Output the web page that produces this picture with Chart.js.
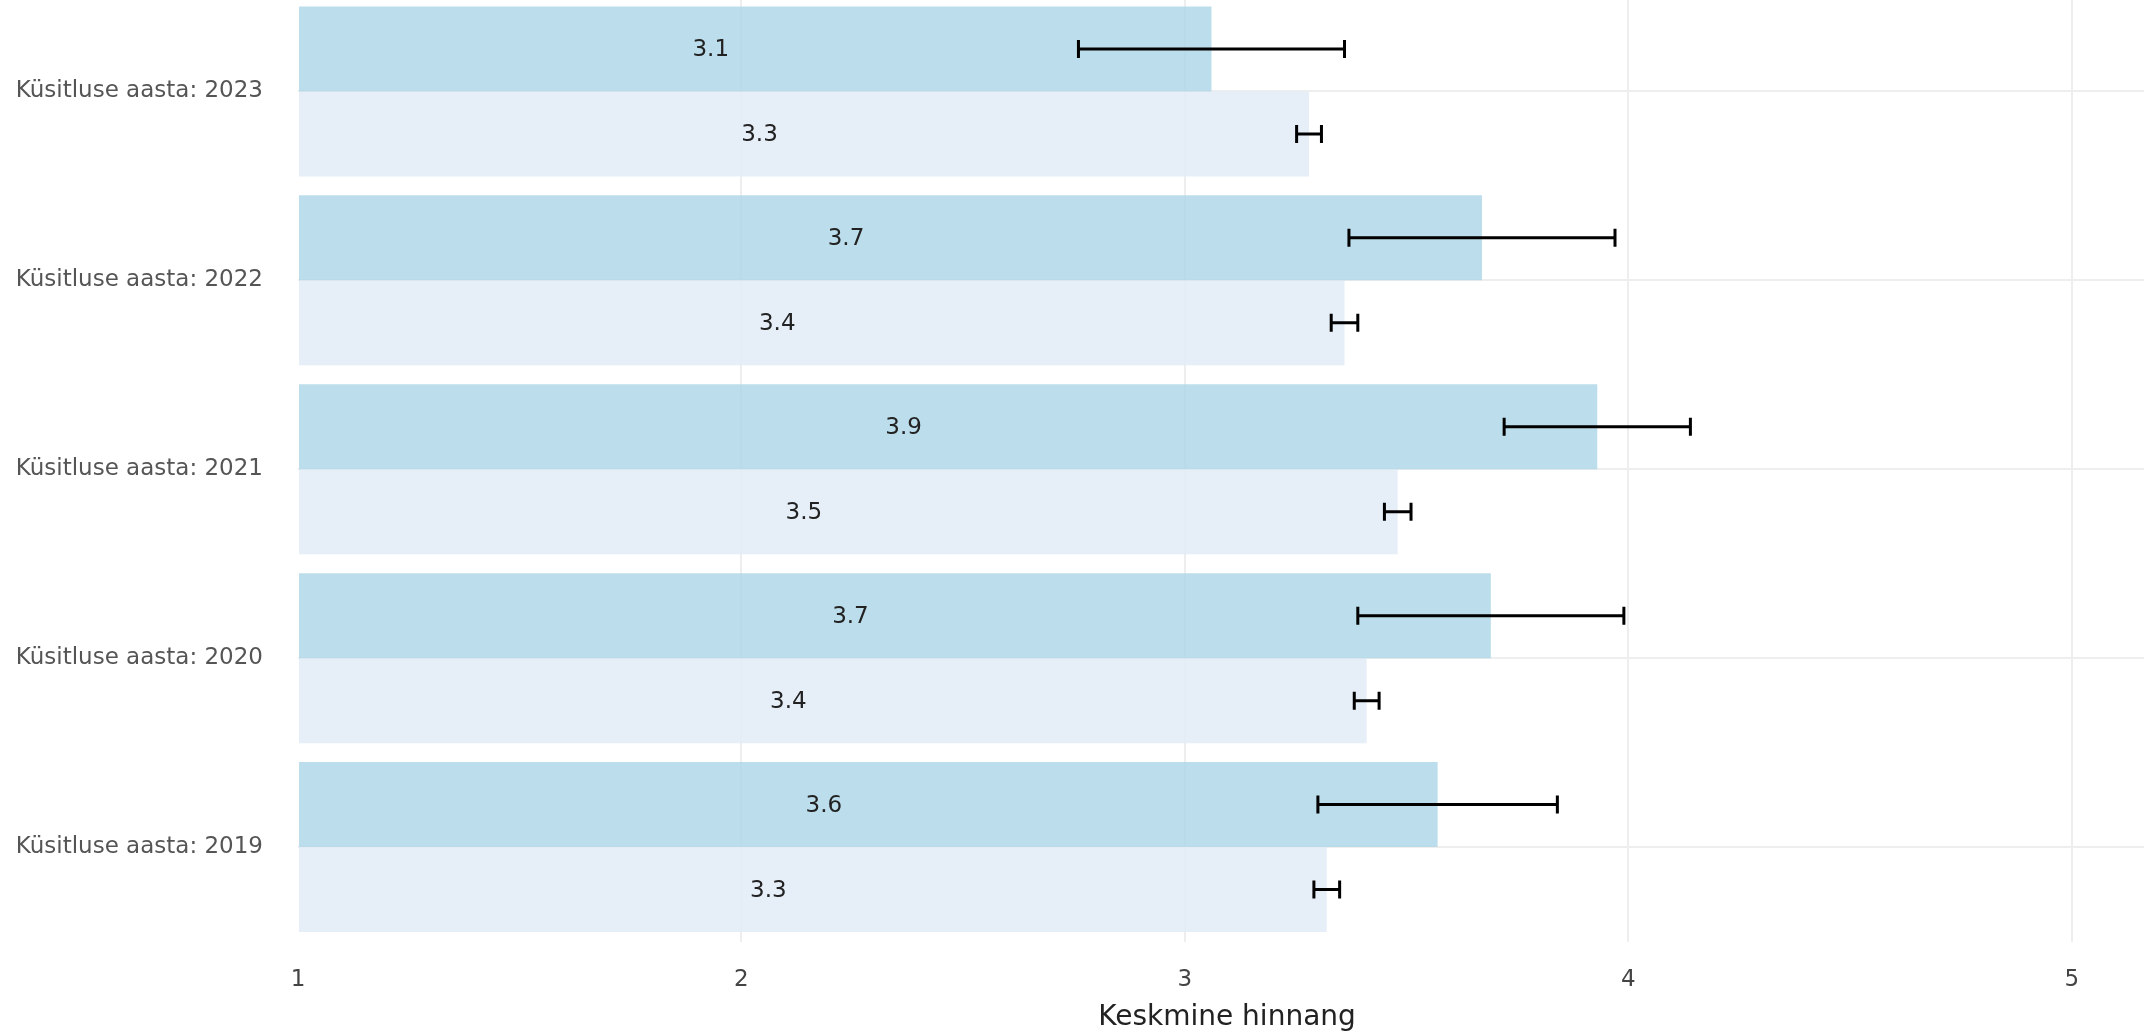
<!DOCTYPE html>
<html>
<head>
<meta charset="utf-8">
<script src="https://cdn.jsdelivr.net/npm/chart.js@4.4.1/dist/chart.umd.min.js"></script>
<style>
  html, body { margin: 0; padding: 0; background: #fff; overflow: hidden; }
  #wrap { position: absolute; left: 0; top: -3px; }
</style>
</head>
<body>
<div id="wrap"><canvas id="myChart" width="2156" height="1038"></canvas></div>
<script>
// kategooriad (ülevalt alla)
const categories = ['Küsitluse aasta: 2023', 'Küsitluse aasta: 2022', 'Küsitluse aasta: 2021', 'Küsitluse aasta: 2020', 'Küsitluse aasta: 2019'];

// ülemine (tumedam) tulp
const groupValues = [3.06, 3.67, 3.93, 3.69, 3.57];
const groupErrors = [0.30, 0.30, 0.21, 0.30, 0.27];

// alumine (heledam) tulp
const allValues = [3.28, 3.36, 3.48, 3.41, 3.32];
const allErrors = [0.028, 0.030, 0.030, 0.028, 0.029];

const xTicks = [1, 2, 3, 4, 5];

const FONT = '"DejaVu Sans", Verdana, sans-serif';

// vearibad
const errorBars = {
    id: 'errorBars',
    afterDatasetsDraw(chart) {
        const ctx = chart.ctx;
        const x = chart.scales.x;
        ctx.save();
        ctx.strokeStyle = '#000';
        ctx.lineWidth = 3;
        chart.data.datasets.forEach((ds, i) => {
            const meta = chart.getDatasetMeta(i);
            meta.data.forEach((bar, j) => {
                const v = ds.data[j];
                const e = ds.errors[j];
                const x0 = x.getPixelForValue(v - e);
                const x1 = x.getPixelForValue(v + e);
                const y = bar.y;
                ctx.beginPath();
                ctx.moveTo(x0, y); ctx.lineTo(x1, y);
                ctx.moveTo(x0, y - 9); ctx.lineTo(x0, y + 9);
                ctx.moveTo(x1, y - 9); ctx.lineTo(x1, y + 9);
                ctx.stroke();
            });
        });
        ctx.restore();
    }
};

// väärtused tulpade sees
const barLabels = {
    id: 'barLabels',
    afterDatasetsDraw(chart) {
        const ctx = chart.ctx;
        const x = chart.scales.x;
        const left = x.getPixelForValue(x.min);
        ctx.save();
        ctx.font = '23px ' + FONT;
        ctx.fillStyle = '#222';
        ctx.textAlign = 'center';
        ctx.textBaseline = 'middle';
        chart.data.datasets.forEach((ds, i) => {
            chart.getDatasetMeta(i).data.forEach((bar, j) => {
                ctx.fillText(ds.data[j].toFixed(1), (left + bar.x) / 2 - 44, bar.y + 1);
            });
        });
        ctx.restore();
    }
};

const ctx = document.getElementById('myChart').getContext('2d');
const chart = new Chart(ctx, {
    type: 'bar',
    data: {
        labels: categories,
        datasets: [
            {
                label: 'Grupp',
                data: groupValues,
                errors: groupErrors,
                backgroundColor: 'rgba(173,213,230,0.82)',
                borderWidth: 0,
                base: 1,
                categoryPercentage: 0.9,
                barPercentage: 1.0
            },
            {
                label: 'Kõik',
                data: allValues,
                errors: allErrors,
                backgroundColor: 'rgba(226,236,247,0.85)',
                borderWidth: 0,
                base: 1,
                categoryPercentage: 0.9,
                barPercentage: 1.0
            }
        ]
    },
    options: {
        indexAxis: 'y',
        responsive: false,
        animation: false,
        layout: { padding: 0 },
        plugins: {
            legend: { display: false },
            tooltip: { enabled: false }
        },
        scales: {
            x: {
                type: 'linear',
                min: 1,
                max: 5.19,
                afterBuildTicks(scale) {
                    scale.ticks = xTicks.map(v => ({ value: v }));
                },
                afterFit(scale) {
                    scale.height = 93.5;
                    scale.paddingLeft = 0;
                    scale.paddingRight = 0;
                },
                grid: {
                    color: ctx => ctx.tick && ctx.tick.value === 1 ? 'rgba(0,0,0,0)' : '#eeeeee',
                    lineWidth: 2,
                    drawTicks: false
                },
                border: { display: false },
                ticks: {
                    padding: 25,
                    color: '#444',
                    font: { family: FONT, size: 23 },
                    callback: v => String(v)
                },
                title: {
                    display: true,
                    text: 'Keskmine hinnang',
                    color: '#222',
                    font: { family: FONT, size: 28 },
                    padding: { top: 9, bottom: 0 }
                }
            },
            y: {
                type: 'category',
                offset: true,
                grid: {
                    offset: false,
                    color: '#eeeeee',
                    lineWidth: 2,
                    drawTicks: false
                },
                border: { display: false },
                afterFit(scale) {
                    scale.width = 298;
                    scale.paddingTop = 0;
                    scale.paddingBottom = 0;
                },
                ticks: {
                    padding: 35,
                    color: '#555',
                    font: { family: FONT, size: 23 }
                }
            }
        }
    },
    plugins: [barLabels, errorBars]
});
</script>
</body>
</html>
